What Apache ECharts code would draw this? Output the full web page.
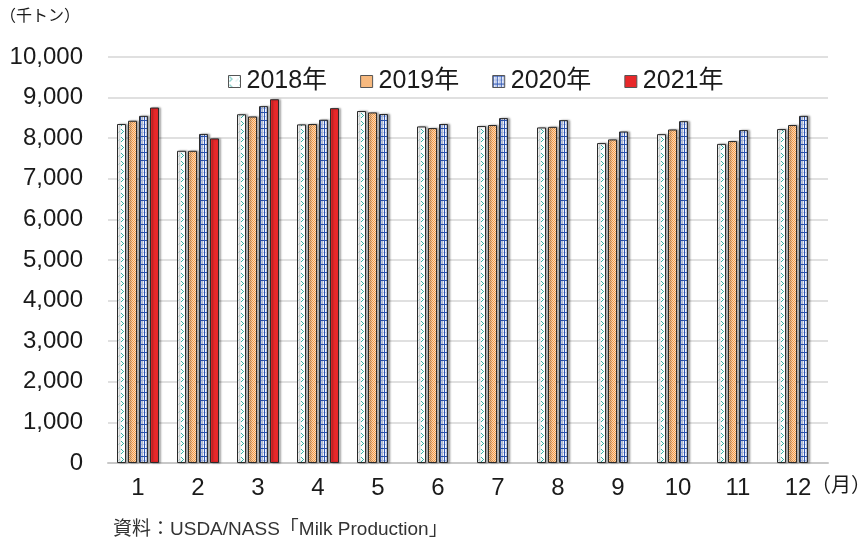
<!DOCTYPE html>
<html>
<head>
<meta charset="utf-8">
<script src="https://cdn.jsdelivr.net/npm/echarts@6/dist/echarts.min.js"></script>
<style>
  html, body { margin: 0; padding: 0; background: #fff; }
  #chart { width: 867px; height: 539px; }
</style>
</head>
<body>
<div id="chart"></div>
<script>
// US milk production by month (thousand tonnes)
const months = ['1', '2', '3', '4', '5', '6', '7', '8', '9', '10', '11', '12'];
const seriesNames = ['2018年', '2019年', '2020年', '2021年'];
const v2018 = [8350, 7690, 8590, 8340, 8670, 8290, 8300, 8265, 7880, 8100, 7860, 8225];
const v2019 = [8430, 7690, 8535, 8350, 8635, 8250, 8325, 8280, 7970, 8215, 7930, 8325];
const v2020 = [8550, 8105, 8790, 8455, 8595, 8350, 8495, 8445, 8165, 8420, 8200, 8550];
const v2021 = [8755, 7995, 8960, 8740, null, null, null, null, null, null, null, null];
const yTicks = { min: 0, max: 10000, interval: 1000 };

const FONT = '"Liberation Sans", "Noto Sans CJK JP", sans-serif';

// small repeating fill patterns for the bars
function makePattern(w, h, draw) {
  const c = document.createElement('canvas');
  c.width = w; c.height = h;
  const ctx = c.getContext('2d');
  draw(ctx);
  return { image: c, repeat: 'repeat' };
}

// white with teal chevrons and pale diagonal dashes
const pat2018 = makePattern(10, 8, ctx => {
  ctx.fillStyle = '#ffffff'; ctx.fillRect(0, 0, 10, 8);
  ctx.fillStyle = '#2fb0a6';
  [[1, 1], [2, 2], [3, 3], [2, 4], [1, 5]].forEach(p => ctx.fillRect(p[0], p[1], 1, 1));
  ctx.fillStyle = '#c9e9e7';
  [[9, 3], [8, 4], [7, 5]].forEach(p => ctx.fillRect(p[0], p[1], 1, 1));
});

// orange dither
const pat2019 = makePattern(2, 2, ctx => {
  ctx.fillStyle = '#fcd9b4'; ctx.fillRect(0, 0, 2, 2);
  ctx.fillStyle = '#f39a4a';
  ctx.fillRect(0, 0, 1, 1); ctx.fillRect(1, 1, 1, 1);
});

// blue grid
const pat2020 = makePattern(4, 8, ctx => {
  ctx.fillStyle = '#f3f6fd'; ctx.fillRect(0, 0, 4, 8);
  ctx.fillStyle = '#b5c4ea';
  ctx.fillRect(2, 0, 1, 8); ctx.fillRect(0, 4, 4, 1);
  ctx.fillStyle = '#2d55b3';
  ctx.fillRect(0, 0, 1, 8); ctx.fillRect(0, 0, 4, 1);
});

const fills = [pat2018, pat2019, pat2020, '#e8282a'];
const values = [v2018, v2019, v2020, v2021];

const chart = echarts.init(document.getElementById('chart'), null, { renderer: 'canvas' });

chart.setOption({
  animation: false,
  backgroundColor: '#ffffff',
  textStyle: { fontFamily: FONT },
  grid: { left: 108, right: 39, top: 57, bottom: 76, containLabel: false },
  legend: {
    data: seriesNames,
    left: 223,
    top: 64,
    icon: 'rect',
    itemWidth: 12,
    itemHeight: 12,
    itemGap: 33,
    textStyle: { fontSize: 25, color: '#1a1a1a', fontFamily: FONT, padding: [0, 0, 0, 1] },
    itemStyle: { borderColor: '#555', borderWidth: 1, shadowBlur: 0, shadowOffsetX: 0, shadowOffsetY: 0, shadowColor: 'transparent' }
  },
  xAxis: {
    type: 'category',
    data: months,
    axisLine: { show: true, lineStyle: { color: '#c8c8c8', width: 2 } },
    axisTick: { show: false },
    axisLabel: { fontSize: 24, color: '#1a1a1a', margin: 13, fontFamily: FONT }
  },
  yAxis: {
    type: 'value',
    min: yTicks.min,
    max: yTicks.max,
    interval: yTicks.interval,
    axisLine: { show: false },
    axisTick: { show: false },
    splitLine: { lineStyle: { color: '#d6d6d6', width: 1.5 } },
    axisLabel: {
      fontSize: 24, color: '#1a1a1a', margin: 25, fontFamily: FONT,
      formatter: v => v.toLocaleString('en-US')
    }
  },
  series: seriesNames.map((name, i) => ({
    name: name,
    type: 'bar',
    data: values[i],
    barWidth: 9,
    barGap: '22.2%',
    itemStyle: {
      color: fills[i],
      borderColor: '#2a2a2a',
      borderWidth: 1,
      shadowColor: 'rgba(0,0,0,0.35)',
      shadowBlur: 2,
      shadowOffsetX: 2,
      shadowOffsetY: 0
    }
  })),
  graphic: [
    {
      type: 'text', left: 0, top: 9,
      style: { text: '（千トン）', font: '16px ' + FONT, fill: '#1a1a1a' }
    },
    {
      type: 'text', left: 811, top: 476,
      style: { text: '（月）', font: '20px ' + FONT, fill: '#1a1a1a' }
    },
    {
      type: 'text', left: 113, top: 520,
      style: { text: '資料：USDA/NASS「Milk Production」', font: '19px ' + FONT, fill: '#333333' }
    }
  ]
});
</script>
</body>
</html>
